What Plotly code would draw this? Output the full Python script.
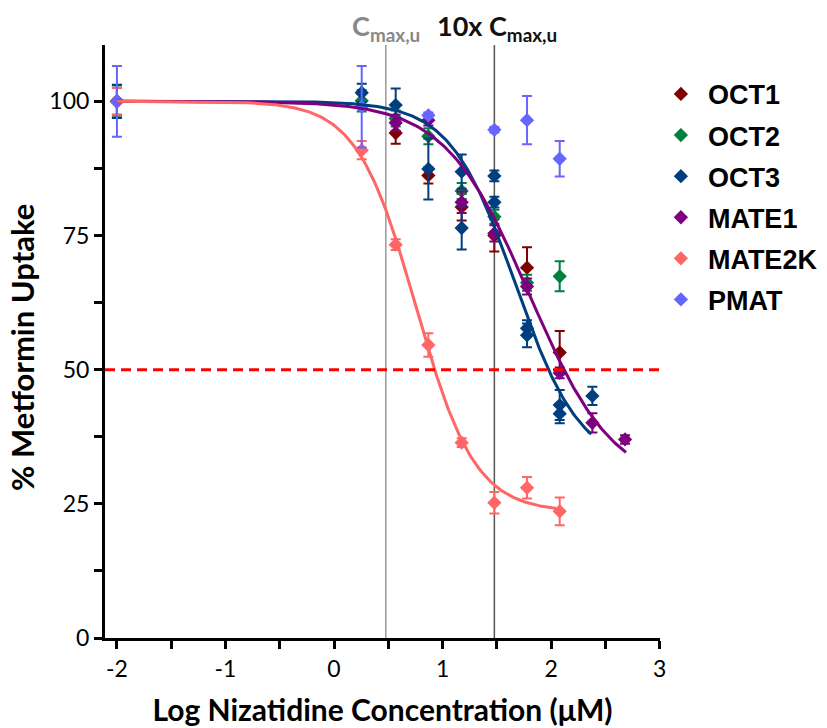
import numpy as np
import plotly.graph_objects as go

# ---------------- data (log10 concentration, µM) ----------------
series_names = ["OCT1", "OCT2", "OCT3", "MATE1", "MATE2K", "PMAT"]
series_colors = ["#7f0000", "#007f3f", "#003f7f", "#7f007f", "#ff6666", "#6666ff"]

oct1_x = [-2, 0.568, 0.869, 1.176, 1.477, 1.778, 2.079]
oct1_y = [100, 94.1, 86.2, 80.3, 75.0, 69.0, 53.2]
oct1_e = [3.0, 2.0, 1.5, 2.5, 3.0, 3.8, 4.0]

oct2_x = [-2, 0.255, 0.568, 0.869, 1.176, 1.477, 1.778, 2.079]
oct2_y = [100, 100.1, 96.8, 93.5, 83.3, 78.5, 66.2, 67.4]
oct2_e = [3.0, 2.0, 1.5, 1.5, 1.5, 1.3, 1.5, 2.8]

oct3_x = [-2, 0.255, 0.568, 0.869, 1.176, 1.176, 1.477, 1.477, 1.778, 1.778, 2.079, 2.079, 2.380]
oct3_y = [100, 101.6, 99.3, 87.4, 86.9, 76.4, 86.1, 81.2, 57.7, 56.4, 43.4, 41.8, 45.1]
oct3_e = [3.1, 1.7, 3.1, 5.7, 3.2, 4.0, 1.0, 1.0, 1.5, 2.2, 2.8, 1.8, 1.7]

mate1_x = [-2, 0.568, 0.869, 1.176, 1.477, 1.778, 2.079, 2.380, 2.681]
mate1_y = [100, 96.0, 96.5, 81.2, 75.4, 65.5, 49.4, 40.1, 37.0]
mate1_e = [2.5, 1.5, 1.0, 2.0, 1.5, 1.5, 1.0, 1.8, 0.8]

mate2k_x = [-2, 0.255, 0.568, 0.869, 1.176, 1.477, 1.778, 2.079]
mate2k_y = [100, 90.9, 73.3, 54.6, 36.4, 25.2, 28.0, 23.6]
mate2k_e = [2.5, 1.7, 1.0, 2.2, 0.8, 2.0, 2.0, 2.6]

pmat_x = [-2, 0.255, 0.869, 1.477, 1.778, 2.079]
pmat_y = [100, 99.0, 97.4, 94.7, 96.5, 89.3]
pmat_e = [6.6, 7.6, 0.5, 0.5, 4.5, 3.3]

# fitted sigmoid parameters: top, bottom, logIC50, hill slope, x-extent
fit_names = ["OCT3", "MATE1", "MATE2K"]
fit_top = [100, 100, 100]
fit_bottom = [32, 28, 23.5]
fit_logic50 = [1.67, 1.80, 0.755]
fit_hill = [1.45, 1.12, 1.6]
fit_xmax = [2.37, 2.69, 2.05]

cmax_log = 0.477
cmax10_log = 1.477
half_line = 50

x_ticks = [-2, -1, 0, 1, 2, 3]
x_ticktext = ["-2", "-1", "0", "1", "2", "3"]
y_ticks = [0, 25, 50, 75, 100]

# ---------------- figure ----------------
fig = go.Figure()

xs = [oct1_x, oct2_x, oct3_x, mate1_x, mate2k_x, pmat_x]
ys = [oct1_y, oct2_y, oct3_y, mate1_y, mate2k_y, pmat_y]
es = [oct1_e, oct2_e, oct3_e, mate1_e, mate2k_e, pmat_e]

for name, col, x, y, e in zip(series_names, series_colors, xs, ys, es):
    fig.add_trace(go.Scatter(
        x=x, y=y, mode="markers", name=name, legendgroup=name,
        marker=dict(symbol="diamond", size=11, color=col),
        error_y=dict(type="data", array=e, visible=True, color=col, thickness=2, width=5),
        cliponaxis=False,
    ))

for name, top, bot, c, h, xm in zip(fit_names, fit_top, fit_bottom, fit_logic50, fit_hill, fit_xmax):
    col = series_colors[series_names.index(name)]
    xx = np.linspace(-2, xm, 300)
    yy = bot + (top - bot) / (1 + 10 ** ((xx - c) * h))
    fig.add_trace(go.Scatter(x=xx, y=yy, mode="lines", line=dict(color=col, width=3),
                             showlegend=False, hoverinfo="skip"))

# reference lines
fig.add_shape(type="line", xref="x", yref="paper", x0=cmax_log, x1=cmax_log, y0=0, y1=1,
              line=dict(color="#999999", width=1.5), layer="below")
fig.add_shape(type="line", xref="x", yref="paper", x0=cmax10_log, x1=cmax10_log, y0=0, y1=1,
              line=dict(color="#555555", width=1.5), layer="below")
fig.add_shape(type="line", xref="paper", yref="y", x0=0, x1=1, y0=half_line, y1=half_line,
              line=dict(color="#ff0000", width=3, dash="10px,6px"))

fig.add_annotation(x=cmax_log, xref="x", y=1.03, yref="paper", yanchor="middle",
                   text="<b>C<sub>max,u</sub></b>", showarrow=False,
                   font=dict(family="Lato", size=27, color="#888888"))
fig.add_annotation(x=cmax10_log, xref="x", y=1.03, yref="paper", yanchor="middle", xshift=3,
                   text="<b>10x C<sub>max,u</sub></b>", showarrow=False,
                   font=dict(family="Lato", size=27, color="#111111"))

# y-axis title
fig.add_annotation(x=0, xref="paper", xshift=-83, xanchor="center", y=0.489, yref="paper",
                   yanchor="middle", textangle=-90, showarrow=False,
                   text="<b>% Metformin Uptake</b>",
                   font=dict(family="Lato", size=31, color="black"))

fig.update_layout(
    width=827, height=728,
    margin=dict(l=105, r=167, t=45, b=90, autoexpand=False),
    plot_bgcolor="white", paper_bgcolor="white",
    showlegend=True,
    legend=dict(x=0.989, xanchor="left", y=0.958, yanchor="top",
                font=dict(family="Liberation Sans", size=27, color="black", weight="bold"),
                tracegroupgap=3, itemwidth=44, bgcolor="rgba(0,0,0,0)"),
    xaxis=dict(range=[-2.11, 3.003], tickvals=x_ticks, ticktext=x_ticktext, ticks="outside",
               ticklen=8, tickwidth=3, automargin=False,
               tickcolor="black", showline=True, linecolor="black", linewidth=3,
               showgrid=False, zeroline=False,
               minor=dict(dtick=0.5, tick0=0, ticks="outside", ticklen=8, tickwidth=3, tickcolor="black"),
               tickfont=dict(family="Lato", size=23, color="black"),
               title=dict(text="<b>Log Nizatidine Concentration (μM)</b>", standoff=20,
                          font=dict(family="Lato", size=30, color="black"))),
    yaxis=dict(range=[0, 110.5], tickvals=y_ticks, ticks="outside", ticklen=8, tickwidth=3,
               tickcolor="black", showline=True, linecolor="black", linewidth=3,
               showgrid=False, zeroline=False, automargin=False,
               minor=dict(dtick=12.5, tick0=0, ticks="outside", ticklen=8, tickwidth=3, tickcolor="black"),
               tickfont=dict(family="Lato", size=23, color="black")),
)

fig.write_html("out.html")
